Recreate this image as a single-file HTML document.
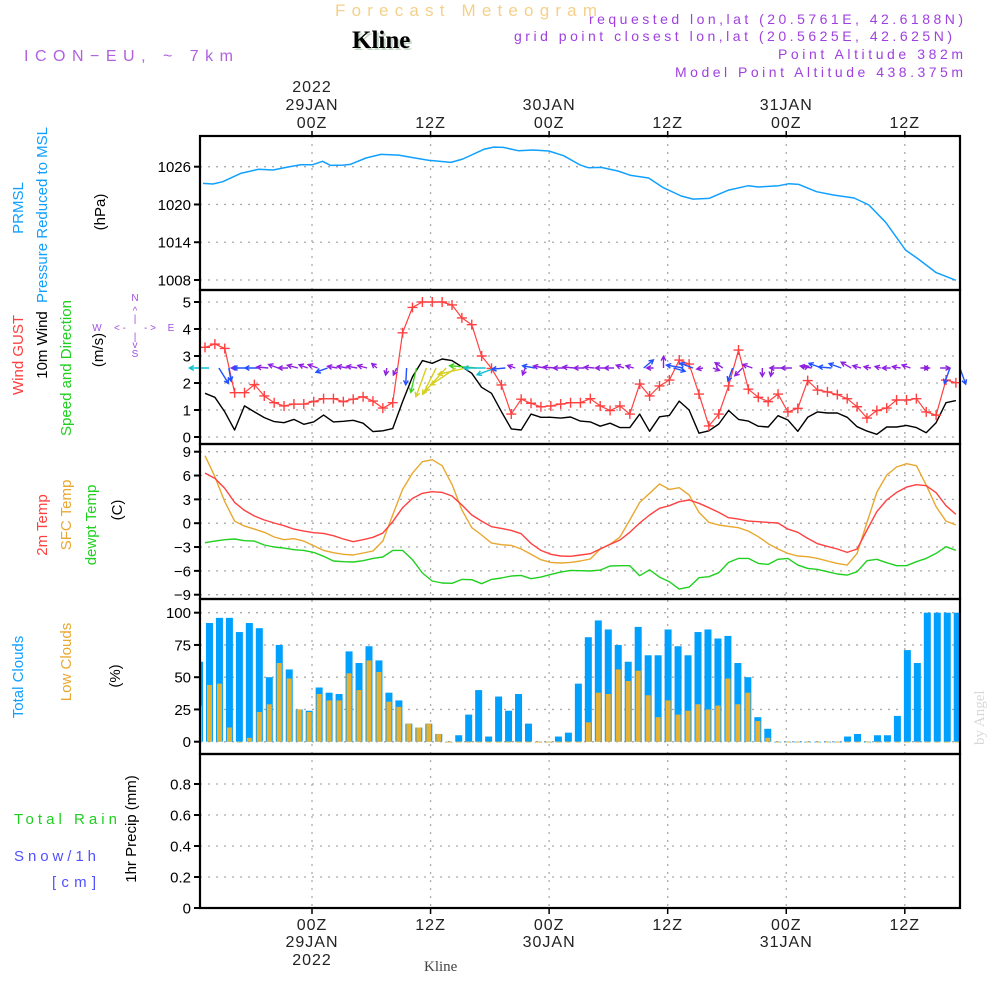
<!DOCTYPE html>
<html><head><meta charset="utf-8"><title>Forecast Meteogram Kline</title>
<style>
html,body{margin:0;padding:0;background:#fff;}
svg{display:block;font-family:"Liberation Sans",sans-serif;}
</style></head>
<body>
<svg id="chart" width="1000" height="1000" viewBox="0 0 1000 1000" xmlns="http://www.w3.org/2000/svg">
<rect x="0" y="0" width="1000" height="1000" fill="#fff"/>
<text x="335" y="16" font-size="17" fill="#f5d08a" textLength="262" lengthAdjust="spacing">Forecast Meteogram</text>
<text x="354" y="50" font-family="Liberation Serif,serif" font-weight="bold" font-size="25" fill="#c8d8c8">Kline</text>
<text x="352" y="48" font-family="Liberation Serif,serif" font-weight="bold" font-size="25" fill="#000">Kline</text>
<text x="24" y="61" font-size="16" fill="#b060e0" textLength="209" lengthAdjust="spacing">ICON−EU, ~ 7km</text>
<text x="589" y="24" font-size="14" fill="#a040e0" textLength="374" lengthAdjust="spacing">requested lon,lat (20.5761E, 42.6188N)</text>
<text x="514" y="41" font-size="14" fill="#a040e0" textLength="438" lengthAdjust="spacing">grid point closest lon,lat (20.5625E, 42.625N)</text>
<text x="778" y="59" font-size="14" fill="#a040e0" textLength="185" lengthAdjust="spacing">Point Altitude 382m</text>
<text x="675" y="77" font-size="14" fill="#a040e0" textLength="288" lengthAdjust="spacing">Model Point Altitude 438.375m</text>
<text transform="translate(984,745) rotate(-90)" font-family="Liberation Serif,serif" font-size="15" fill="#d8d8d8">by Angel</text>
<g id="grid"></g>
<g id="marks"></g>
<g id="frames"></g>
<g id="labels"></g>
</svg>
<script>
// ---- time axis data ----
const tickHours = [10.83, 22.83, 34.83, 46.83, 58.83, 70.83];
const tickTop1 = ["2022", "", "", "", "", ""];
const tickTop2 = ["29JAN", "", "30JAN", "", "31JAN", ""];
const tickTop3 = ["00Z", "12Z", "00Z", "12Z", "00Z", "12Z"];
const tickBot1 = ["00Z", "12Z", "00Z", "12Z", "00Z", "12Z"];
const tickBot2 = ["29JAN", "", "30JAN", "", "31JAN", ""];
const tickBot3 = ["2022", "", "", "", "", ""];
// ---- pressure ----
const presHours = [-0.2,0.8,1.8,3.6,5.4,6.9,8.2,9.7,10.9,11.9,12.7,14.0,14.7,16.3,17.8,19.6,21.1,22.6,24.9,26.1,28.2,29.2,30.2,31.7,33.2,34.8,36.3,38.0,38.8,40.1,41.8,43.1,44.9,46.4,48.2,49.4,51.0,53.0,55.0,56.0,58.1,59.1,60.1,61.9,63.6,65.7,67.2,68.9,70.9,72.2,74.0,76.0];
const presVals = [1023.35,1023.25,1023.62,1024.94,1025.58,1025.47,1025.89,1026.32,1026.32,1026.85,1026.21,1026.26,1026.37,1027.38,1027.96,1027.85,1027.43,1027.01,1026.69,1027.22,1028.75,1029.12,1029.07,1028.54,1028.65,1028.49,1027.75,1026.26,1025.84,1025.89,1025.31,1024.62,1024.20,1022.66,1021.34,1020.86,1020.97,1022.29,1022.98,1022.77,1022.98,1023.30,1023.19,1022.03,1021.50,1021.02,1019.91,1017.16,1012.76,1011.34,1009.17,1007.95];
const presTicks = [1008, 1014, 1020, 1026];
// ---- wind ----
const gust = [3.32,3.44,3.28,1.64,1.64,1.94,1.52,1.27,1.15,1.22,1.22,1.31,1.42,1.42,1.31,1.40,1.49,1.33,1.07,1.27,3.86,4.80,5.0,5.0,5.0,4.89,4.41,4.16,3.0,2.54,1.93,0.85,1.40,1.25,1.12,1.15,1.22,1.27,
1.27,1.42,1.15,0.98,1.15,0.85,1.96,1.52,1.89,2.11,2.85,2.70,1.59,0.41,0.85,1.89,3.22,1.77,1.47,1.31,1.59,0.93,1.06,2.09,1.74,1.67,1.57,1.42,1.12,0.70,0.98,1.07,1.37,1.37,1.42,0.93,0.81,2.11,2.01];
const wind = [1.62,1.47,0.93,0.26,1.15,0.93,0.72,0.57,0.53,0.65,0.47,0.56,0.81,0.56,0.58,0.62,0.51,0.20,0.23,0.31,1.31,2.23,2.83,2.73,2.89,2.83,2.60,2.36,1.84,1.62,0.94,0.30,0.26,0.85,0.73,0.73,0.70,0.74,
0.59,0.56,0.40,0.51,0.35,0.35,0.85,0.21,0.75,0.80,1.33,1.0,0.14,0.23,0.48,0.98,0.65,0.59,0.40,0.37,0.79,0.63,0.21,0.73,0.93,0.89,0.89,0.73,0.38,0.22,0.10,0.37,0.37,0.43,0.35,0.16,0.53,1.27,1.35];
const windDir = [180,58,80,180,180,180,185,200,180,195,200,200,160,190,190,190,195,220,100,115,93,103,110,117,132,146,167,185,180,160,175,200,110,190,190,185,180,185,
180,185,180,180,200,195,320,180,270,15,190,200,170,20,215,110,135,200,90,100,180,180,345,190,200,185,200,210,195,190,195,180,190,200,0,180,0,110,70];
const windTicks = [0,1,2,3,4,5];
// ---- temperature ----
const t2m = [6.31,5.64,4.38,2.62,1.61,0.90,0.40,0.02,-0.32,-0.74,-0.99,-1.20,-1.28,-1.57,-1.99,-2.33,-2.08,-1.78,-1.24,0.19,1.95,3.12,3.76,3.97,3.88,3.42,2.29,1.03,0.27,-0.44,-0.65,-0.90,-1.32,-2.54,-3.42,-3.92,-4.13,-4.17,
-4.0,-3.84,-3.25,-2.66,-2.12,-1.15,0.02,1.03,1.87,2.20,2.71,2.92,2.50,1.95,1.36,0.69,0.52,0.27,0.19,0.10,0.02,-0.74,-1.15,-1.91,-2.58,-2.92,-3.25,-3.67,-3.25,-0.86,1.45,2.92,3.88,4.55,4.85,4.72,3.84,2.20,1.11];
const tsfc = [8.50,5.85,2.71,0.27,-0.36,-0.74,-1.15,-1.74,-2.08,-1.95,-2.25,-2.83,-3.42,-3.71,-3.92,-4.0,-3.75,-3.5,-2.25,1.03,4.26,6.31,7.74,7.99,7.24,4.89,1.66,-0.57,-1.49,-2.50,-2.71,-2.79,-3.25,-3.92,-4.59,-4.93,-5.01,-4.93,
-4.76,-4.51,-3.25,-2.66,-1.74,0.40,2.62,3.76,4.93,4.26,4.47,3.55,1.36,0.10,-0.23,-0.40,-0.57,-0.99,-1.70,-2.58,-3.25,-3.80,-4.13,-4.22,-4.43,-4.76,-5.06,-5.27,-3.80,0.10,3.88,6.06,7.07,7.49,7.24,4.80,2.08,0.27,-0.23];
const tdew = [-2.46,-2.25,-2.08,-1.99,-2.20,-2.25,-2.75,-3.0,-3.13,-3.34,-3.42,-3.67,-4.17,-4.76,-4.85,-4.89,-4.72,-4.43,-4.26,-3.42,-3.42,-4.59,-6.27,-7.28,-7.53,-7.57,-7.07,-7.11,-7.62,-7.07,-6.90,-6.65,-6.57,-6.99,-6.78,-6.44,-6.15,-5.94,
-5.98,-6.02,-5.90,-5.39,-5.35,-5.35,-6.61,-5.86,-6.78,-7.36,-8.29,-8.04,-6.86,-6.74,-6.23,-4.93,-4.43,-4.43,-5.06,-5.18,-4.55,-4.43,-5.27,-5.69,-5.81,-6.11,-6.40,-6.53,-6.11,-4.72,-4.55,-4.97,-5.35,-5.35,-4.85,-4.43,-3.80,-2.96,-3.42];
const tempTicks = [-9,-6,-3,0,3,6,9];
// ---- clouds ----
const cloudTotal = [62,92,96,96,85,92,88,50,75,56,25,24,42,38,37,70,61,74,63,38,32,14,11,14,6,0,5,21,40,4,35,24,37,14,0,0,4,7,45,
81,94,87,75,62,89,67,67,87,74,67,85,87,80,82,61,50,19,10,0,0,0,0,0,0,0,4,6,0,5,5,20,71,61,100,100,100,100];
const cloudLow = [28,44,45,11,0,3,23,29,61,49,25,23,37,32,32,53,40,63,54,31,27,14,11,14,6,0,0,0,0,0,0,0,0,0,0,0,0,0,0,
15,38,37,56,47,55,36,19,32,21,24,29,25,28,49,29,38,16,3,0,0,0,0,0,0,0,0,0,0,0,0,0,0,0,0,0,0,0];
const cloudTicks = [0,25,50,75,100];
// ---- precip ----
const precip = new Array(77).fill(0);
const precipTicks = [0,0.2,0.4,0.6,0.8];

const NS = "http://www.w3.org/2000/svg";
const L = 200, R = 960;
function xh(h){ return 205 + h*9.88; }
function xbar(i){ return 199.5 + i*9.97; }
function lin(d0,d1,r0,r1){ return v => r0 + (v-d0)*(r1-r0)/(d1-d0); }
const yP = lin(1008,1026,280,166.7);
const yW = lin(0,5,437,302);
const yT = lin(-9,9,594.7,451.7);
const yC = lin(0,100,741.7,612.7);
const yR = lin(0,0.8,908,784);
const panels = [[136,290],[290,444],[444,599],[599,754],[754,908]];

function el(tag, attrs, parent, txt){
  const e = document.createElementNS(NS, tag);
  for (const k in attrs) e.setAttribute(k, attrs[k]);
  if (txt !== undefined) e.textContent = txt;
  parent.appendChild(e);
  return e;
}
const G = document.getElementById('grid'), M = document.getElementById('marks'), F = document.getElementById('frames'), LB = document.getElementById('labels');

// vertical grid lines
tickHours.forEach(h => {
  const x = xh(h);
  const g = el('line', {x1:x, x2:x, y1:136, y2:908, stroke:'#aaa', 'stroke-width':1.3, 'stroke-dasharray':'2,6'}, G);
  
  
});
// horizontal grids + y tick labels
function yAxis(ticks, sc, fmt, name){
  ticks.forEach(v => {
    const y = sc(v);
    const g = el('line', {x1:L, x2:R, y1:y, y2:y, stroke:'#aaa', 'stroke-width':1.3, 'stroke-dasharray':'2,6'}, G);
    
    
    const tk = el('line', {x1:194, x2:200, y1:y, y2:y, stroke:'#000', 'stroke-width':2}, F);
    
    
    const t = el('text', {x:191, y:y+5.5, 'font-size':15, 'text-anchor':'end', fill:'#000'}, LB, fmt(v));
    
    
  });
}
yAxis(presTicks, yP, v => String(v), 'pressure');
yAxis(windTicks, yW, v => String(v), 'wind');
yAxis(tempTicks, yT, v => v < 0 ? '−' + Math.abs(v) : String(v), 'temp');
yAxis(cloudTicks, yC, v => String(v), 'cloud');
yAxis(precipTicks, yR, v => v === 0 ? '0' : v.toFixed(1), 'precip');

// time tick labels
tickHours.forEach((h, k) => {
  const x = xh(h);
  const a = el('line', {x1:x, x2:x, y1:131, y2:136, stroke:'#000', 'stroke-width':1.5}, F);
  
  
  const b = el('line', {x1:x, x2:x, y1:908, y2:914, stroke:'#000', 'stroke-width':1.5}, F);
  
  
  [[tickTop1[k],92],[tickTop2[k],110],[tickTop3[k],128],[tickBot1[k],930],[tickBot2[k],947],[tickBot3[k],965]].forEach(([s,y]) => {
    if (!s) return;
    const t = el('text', {x:x, y:y, 'font-size':16, 'text-anchor':'middle', fill:'#222', 'letter-spacing':'1'}, LB, s);
    
    
  });
});

function path(xs, ys, color, w, name){
  let d = '';
  xs.forEach((x, i) => { d += (i ? 'L' : 'M') + x.toFixed(1) + ',' + ys[i].toFixed(1); });
  const p = el('path', {d:d, fill:'none', stroke:color, 'stroke-width':w, 'stroke-linejoin':'round'}, M);
  
  
}
// pressure
path(presHours.map(xh), presVals.map(yP), '#10a0ff', 1.5, 'pressure-line');
// wind speed
path(wind.map((v,i) => xh(i)), wind.map(yW), '#000', 1.4, 'wind-speed-line');
// gust line + markers
path(gust.map((v,i) => xh(i)), gust.map(yW), '#ff4040', 1.2, 'wind-gust-line');
gust.forEach((v, i) => {
  const x = xh(i), y = yW(v);
  const m = el('path', {d:`M${x-5},${y}H${x+5}M${x},${y-5}V${y+5}`, stroke:'#ff4040', 'stroke-width':1.4}, M);
  
  
});
// wind arrows
function windColor(s){
  if (s < 0.8) return '#9020e0';
  if (s < 1.5) return '#2050ff';
  if (s < 2.0) return '#10c0d0';
  if (s < 2.5) return '#40d020';
  return '#d8d020';
}
windDir.forEach((ang, i) => {
  const s = wind[i];
  const len = 5 + s*9;
  const a = ang*Math.PI/180;
  const x0 = xh(i) + 4, y0 = 368;
  const x1 = x0 + Math.cos(a)*len, y1 = y0 + Math.sin(a)*len;
  const h1 = a + Math.PI - 0.5, h2 = a + Math.PI + 0.5;
  const d = `M${x0.toFixed(1)},${y0}L${x1.toFixed(1)},${y1.toFixed(1)}M${(x1+Math.cos(h1)*5).toFixed(1)},${(y1+Math.sin(h1)*5).toFixed(1)}L${x1.toFixed(1)},${y1.toFixed(1)}L${(x1+Math.cos(h2)*5).toFixed(1)},${(y1+Math.sin(h2)*5).toFixed(1)}`;
  const p = el('path', {d:d, fill:'none', stroke:windColor(s), 'stroke-width':1.4}, M);
  
  
});
// temperatures
path(tsfc.map((v,i) => xh(i)), tsfc.map(yT), '#e8a830', 1.4, 'sfc-temp-line');
path(t2m.map((v,i) => xh(i)), t2m.map(yT), '#ff4040', 1.4, '2m-temp-line');
path(tdew.map((v,i) => xh(i)), tdew.map(yT), '#20d020', 1.4, 'dewpoint-line');
// clouds
cloudTotal.forEach((v, i) => {
  const x = xbar(i);
  const x0 = Math.max(L, x-3.5), x1 = Math.min(R, x+3.5);
  if (x1 <= x0) return;
  const r = el('rect', {x:x0, y:yC(v), width:x1-x0, height:Math.max(yC(0)-yC(v),0.8), fill:'#00a0ff'}, M);
  
  
});
cloudLow.forEach((v, i) => {
  const x = xbar(i);
  const x0 = Math.max(L, x-2.5), x1 = Math.min(R, x+2.5);
  if (x1 <= x0) return;
  const r = el('rect', {x:x0, y:yC(v), width:x1-x0, height:Math.max(yC(0)-yC(v),0.8), fill:'#e8b030'}, M);
  
  
});
// precip (zero line dashed)
path(precip.map((v,i) => xh(i)), precip.map(yR), '#000', 1.5, 'precip-line');
M.lastChild.setAttribute('stroke-dasharray', '4,3');

// frames
panels.forEach(([t,b]) => {
  const r = el('rect', {x:L, y:t, width:R-L, height:b-t, fill:'none', stroke:'#000', 'stroke-width':2.2}, F);
  
  
});

// left rotated labels
function vlab(txt, x, yc, color, name, size){
  const t = el('text', {transform:`translate(${x},${yc}) rotate(-90)`, 'font-size':size||15, 'text-anchor':'middle', fill:color}, LB, txt);
  
  
}
vlab('PRMSL', 23, 208, '#10a0ff', 'pressure-label-prmsl');
vlab('Pressure Reduced to MSL', 47, 215, '#10a0ff', 'pressure-label');
vlab('(hPa)', 105, 212, '#000', 'pressure-unit');
vlab('Wind GUST', 23, 355, '#ff4040', 'gust-label');
vlab('10m Wind', 47, 345, '#000', 'wind-label');
vlab('Speed and Direction', 71, 368, '#20d020', 'wind-direction-label');
vlab('(m/s)', 103, 350, '#000', 'wind-unit');
vlab('2m Temp', 47, 525, '#ff4040', 'temp-2m-label');
vlab('SFC Temp', 71, 515, '#e8a830', 'temp-sfc-label');
vlab('dewpt Temp', 96, 525, '#20d020', 'dewpoint-label');
vlab('(C)', 122, 510, '#000', 'temp-unit');
vlab('Total Clouds', 23, 677, '#10a0ff', 'total-cloud-label');
vlab('Low Clouds', 71, 662, '#e8a830', 'low-cloud-label');
vlab('(%)', 120, 676, '#000', 'cloud-unit');
vlab('1hr Precip (mm)', 136, 829, '#000', 'precip-unit-label');
function hlab(txt, x, y, color, name, w){
  const t = el('text', {x:x, y:y, 'font-size':15, fill:color, textLength:w, lengthAdjust:'spacing'}, LB, txt);
  
  
}
hlab('Total  Rain', 14, 824, '#20d020', 'rain-label', 103);
hlab('Snow/1h', 14, 861, '#5050ff', 'snow-label', 82);
hlab('[cm]', 52, 887, '#5050ff', 'snow-unit', 44);
// compass
const cp = el('g', {fill:'#a050e0', 'font-size':10, 'text-anchor':'middle'}, LB);


[['N',135,301],['^',135,314],['|',135,322],['W',97,331],['< -',120,331],['- >',150,331],['E',171,331],['|',135,340],['v',135,348],['S',135,357]].forEach(([s,x,y]) => el('text', {x:x, y:y}, cp, s));
// bottom station label
const kb = el('text', {x:424, y:971, 'font-family':'Liberation Serif,serif', 'font-size':15, fill:'#444'}, LB, 'Kline');


</script>
</body></html>
